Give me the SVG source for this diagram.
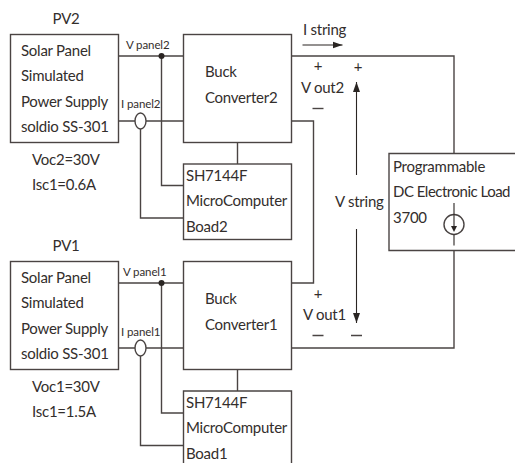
<svg xmlns="http://www.w3.org/2000/svg" width="515" height="463" viewBox="0 0 515 463">
<defs>
<style>
.l{fill:none;stroke:#4a4443;stroke-width:1.4}
.a{fill:none;stroke:#2a2523;stroke-width:1.1}
text{font-family:Lato,"Open Sans",sans-serif;fill:#332e2c;font-size:15px;letter-spacing:-.25px}
.s{font-size:11.500px;letter-spacing:-.1px}
.c{text-anchor:middle}
.t{letter-spacing:-.5px}
</style>
<marker id="ah" markerWidth="10" markerHeight="8" refX="10" refY="4" orient="auto" markerUnits="userSpaceOnUse"><path d="M0 .5L10 4L0 7.500z" fill="#2a2523"/></marker>
</defs>
<rect width="515" height="463" fill="#fff"/>
<g id="connectors">
<path class="l" d="M118.500 56H183.500M118.500 121H135M146 121H183.500M161.500 56V185.500H183.500M140.500 129V218H183.500M237.500 142.500V164"/>
<path class="l" d="M118.500 283H183.500M118.500 348H135M146 348H183.500M161.500 283V413H183.500M140.500 356V445.500H183.500M237.500 369.500V391"/>
<path class="l" d="M291.500 56H454V153.500M291.500 121H313.500V283H291.500M291.500 348H454V250.500"/>
<path class="a" d="M302.500 45H342.500" marker-end="url(#ah)"/>
<path class="a" d="M356.500 175V82" marker-end="url(#ah)"/>
<path class="a" d="M356.500 229V323" marker-end="url(#ah)"/>
<circle cx="161.500" cy="56" r="3" fill="#2a2523"/>
<circle cx="161.500" cy="283" r="3" fill="#2a2523"/>
<ellipse class="l" cx="140.500" cy="121" rx="5.500" ry="8"/>
<ellipse class="l" cx="140.500" cy="348" rx="5.500" ry="8"/>
</g>
<g id="pv2">
<rect class="l" x="10.500" y="34.500" width="108" height="108"/>
<text x="66" y="24" class="c">PV2</text>
<text x="21" y="56">Solar Panel</text><text x="21" y="81">Simulated</text><text x="21" y="107">Power Supply</text><text x="21" y="132">soldio SS-301</text>
<text x="32" y="165">Voc2=30V</text><text x="32" y="190">Isc1=0.6A</text>
</g>
<g id="buck2">
<rect class="l" x="183.500" y="34.500" width="108" height="108"/>
<text x="205" y="77">Buck</text><text x="205" y="103">Converter2</text>
</g>
<g id="board2">
<rect class="l" x="183.500" y="164" width="108" height="75.500"/>
<text x="186" y="181">SH7144F</text><text x="186" y="206">MicroComputer</text><text x="186" y="232">Boad2</text>
</g>
<g id="pv1">
<rect class="l" x="10.500" y="261.500" width="108" height="108"/>
<text x="66" y="251" class="c">PV1</text>
<text x="21" y="283">Solar Panel</text><text x="21" y="308">Simulated</text><text x="21" y="334">Power Supply</text><text x="21" y="359">soldio SS-301</text>
<text x="32" y="392">Voc1=30V</text><text x="32" y="417">Isc1=1.5A</text>
</g>
<g id="buck1">
<rect class="l" x="183.500" y="261.500" width="108" height="108"/>
<text x="205" y="304">Buck</text><text x="205" y="330">Converter1</text>
</g>
<g id="board1">
<path class="l" d="M183.500 463V391H291.500V463"/>
<text x="186" y="408">SH7144F</text><text x="186" y="433">MicroComputer</text><text x="186" y="459">Boad1</text>
</g>
<g id="load">
<path class="l" d="M515 153.500H389V250.500H515"/>
<text x="393" y="172">Programmable</text><text x="393" y="197" class="t">DC Electronic Load</text><text x="393" y="223">3700</text>
<circle class="l" cx="454" cy="224.500" r="10"/>
<path class="a" d="M454 203V228M454 234.500V245.500"/>
<path d="M451 226H457L454 232z" fill="#2a2523"/>
</g>
<g id="labels">
<text class="s" x="126" y="49">V panel2</text><text class="s" x="121" y="108">I panel2</text>
<text class="s" x="123" y="276">V panel1</text><text class="s" x="121" y="336">I panel1</text>
<text x="303" y="35">I string</text>
<text x="318" y="71" class="c">+</text><text x="358" y="72" class="c">+</text>
<text x="301" y="93">V out2</text><path class="l" d="M312.500 108.500H323.500"/>
<text x="335" y="207">V string</text>
<text x="318" y="299" class="c">+</text>
<text x="303" y="320">V out1</text><path class="l" d="M312.500 335.500H323.500M351 335.500H362"/>
</g>
</svg>
